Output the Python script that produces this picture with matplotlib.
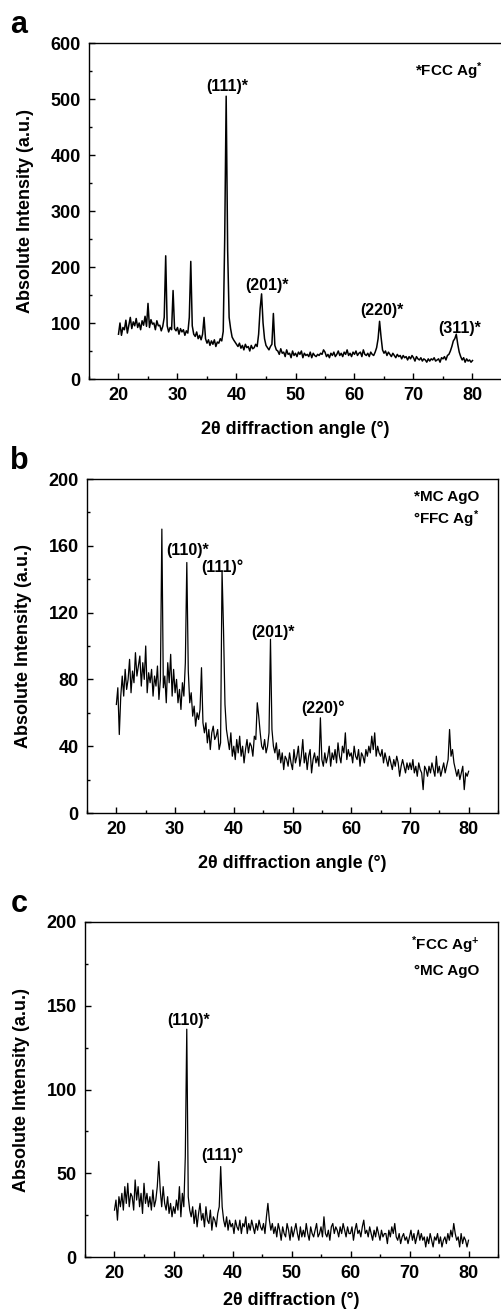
import numpy as np
import matplotlib
matplotlib.use("Agg")
import matplotlib.pyplot as plt
from matplotlib.ticker import MultipleLocator

plt.rcParams['font.family'] = ['Liberation Sans', 'DejaVu Sans']
plt.rcParams['font.weight'] = 'bold'
plt.rcParams['mathtext.fontset'] = 'custom'
plt.rcParams['mathtext.rm'] = 'Liberation Sans:bold'
plt.rcParams['mathtext.default'] = 'rm'

# 2-theta sampling, 20..80 step 0.25
two_theta = np.arange(240 + 1) * 0.25 + 20

counts_a = [
    80, 100, 78, 92, 88, 105, 82, 96, 110, 90, 102, 95, 108, 92, 100, 88,
    104, 96, 112, 94, 135, 92, 106, 98, 100, 88, 104, 95, 96, 86, 94, 110,
    220, 95, 84, 92, 88, 158, 90, 86, 92, 80, 90, 84, 88, 78, 86, 82,
    110, 210, 95, 80, 76, 84, 72, 78, 70, 80, 110, 72, 64, 70, 60, 68,
    62, 70, 58, 66, 64, 72, 68, 85, 250, 505, 230, 110, 90, 75, 70, 66,
    62, 58, 64, 55, 60, 52, 62, 56, 58, 50, 60, 54, 56, 62, 58, 80,
    125, 152, 100, 72, 60, 56, 52, 58, 62, 117, 60, 52, 50, 44, 54, 46,
    48, 40, 52, 44, 46, 38, 50, 42, 46, 40, 48, 44, 50, 38, 46, 42,
    44, 40, 48, 38, 46, 42, 40, 44, 42, 46, 44, 52, 48, 40, 44, 38,
    46, 42, 48, 40, 44, 50, 42, 46, 40, 48, 44, 52, 42, 46, 40, 48,
    44, 50, 42, 46, 48, 40, 52, 44, 42, 46, 40, 48, 44, 42, 48, 56,
    72, 103, 75, 52, 46, 50, 42, 48, 44, 40, 46, 42, 38, 44, 40, 42,
    36, 42, 38, 40, 34, 40, 36, 42, 38, 32, 40, 36, 34, 38, 32, 36,
    34, 30, 36, 32, 36, 34, 38, 32, 34, 36, 30, 38, 36, 40, 34, 42,
    44, 50, 58, 68, 72, 80, 62, 48, 40, 34, 38, 30, 36, 32, 34, 30,
    33,
]

counts_b = [
    65, 75, 47, 70, 82, 70, 86, 74, 80, 92, 72, 85, 78, 96, 82, 88,
    94, 76, 90, 80, 100, 72, 84, 78, 86, 70, 82, 76, 88, 68, 80, 170,
    75, 82, 66, 90, 78, 95, 70, 86, 72, 80, 66, 74, 62, 78, 70, 90,
    150, 85, 66, 72, 58, 64, 52, 60, 56, 62, 87, 54, 48, 54, 42, 50,
    38, 48, 52, 44, 46, 50, 38, 42, 145, 110, 65, 50, 44, 38, 48, 34,
    40, 32, 44, 36, 46, 34, 40, 30, 38, 44, 36, 42, 40, 34, 46, 44,
    66, 58, 48, 40, 38, 44, 36, 40, 48, 104, 50, 40, 36, 42, 32, 38,
    30, 36, 26, 34, 32, 28, 36, 30, 26, 38, 30, 34, 40, 28, 34, 44,
    30, 36, 26, 34, 38, 24, 32, 36, 30, 34, 28, 57, 32, 28, 36, 30,
    34, 40, 28, 36, 32, 38, 30, 42, 34, 30, 40, 36, 48, 32, 38, 34,
    36, 30, 40, 34, 32, 38, 28, 36, 34, 30, 38, 34, 40, 36, 46, 38,
    48, 34, 40, 36, 34, 38, 30, 36, 32, 28, 34, 30, 26, 32, 28, 34,
    30, 22, 28, 32, 28, 24, 30, 26, 30, 26, 32, 24, 28, 22, 30, 26,
    24, 14, 28, 26, 22, 28, 24, 30, 26, 22, 34, 24, 28, 22, 26, 30,
    24, 28, 32, 50, 34, 38, 30, 26, 22, 26, 20, 24, 28, 14, 24, 22,
    25,
]

counts_c = [
    28, 34, 22, 36, 30, 38, 28, 42, 32, 44, 30, 38, 36, 28, 46, 34,
    42, 30, 38, 26, 44, 32, 38, 30, 36, 28, 40, 30, 34, 42, 57, 40,
    30, 42, 32, 28, 36, 26, 32, 24, 30, 26, 34, 28, 42, 24, 38, 30,
    60, 136, 36, 28, 24, 30, 20, 28, 18, 26, 32, 22, 26, 18, 30, 22,
    20, 28, 16, 24, 22, 18, 26, 30, 54, 30, 22, 18, 24, 16, 22, 18,
    20, 14, 22, 18, 16, 22, 14, 20, 18, 24, 14, 20, 16, 22, 18, 14,
    20, 16, 22, 18, 16, 20, 14, 24, 32, 22, 16, 20, 14, 18, 12, 20,
    16, 10, 18, 14, 12, 20, 16, 10, 18, 12, 16, 20, 14, 10, 18, 12,
    16, 12, 20, 14, 10, 18, 14, 12, 16, 20, 12, 14, 18, 12, 24, 14,
    12, 16, 10, 18, 20, 14, 18, 16, 12, 18, 14, 20, 16, 12, 18, 14,
    14, 18, 10, 16, 20, 14, 16, 12, 18, 22, 14, 16, 12, 18, 14, 10,
    16, 12, 18, 14, 10, 16, 12, 14, 14, 8, 16, 12, 18, 14, 20, 12,
    10, 14, 8, 12, 14, 10, 12, 8, 12, 16, 10, 14, 8, 12, 16, 10,
    14, 10, 12, 6, 12, 8, 14, 10, 6, 12, 10, 14, 8, 12, 6, 10,
    12, 8, 14, 10, 16, 12, 20, 14, 10, 12, 6, 14, 8, 12, 10, 6,
    10,
]

# peak labels: (text, x, y)
labels_a = [("(111)*", 38.5, 522), ("(201)*", 45.1, 167),
            ("(220)*", 64.7, 123), ("(311)*", 77.8, 91)]
labels_b = [("(110)*", 32.2, 157), ("(111)°", 38.0, 147),
            ("(201)*", 46.7, 108), ("(220)°", 55.2, 63)]
labels_c = [("(110)*", 32.5, 141), ("(111)°", 38.3, 61)]

legend_a = ["*FCC Ag$^{*}$"]
legend_b = ["*MC AgO", "°FFC Ag$^{*}$"]
legend_c = ["$^{*}$FCC Ag$^{+}$", "°MC AgO"]

fig = plt.figure(figsize=(5.01, 13.11), dpi=100)
H = 1311.0
W = 501.0


def panel(rect, y, ymax, ymaj, labels, legend, leg_y, letter, xlabel, lw,
          xpad=12):
    l, t, r, b = rect
    ax = fig.add_axes([l / W, 1 - b / H, (r - l) / W, (b - t) / H])
    ax.plot(two_theta, y, color='black', lw=lw)
    ax.set_xlim(15, 85)
    ax.set_ylim(0, ymax)
    ax.xaxis.set_major_locator(MultipleLocator(10))
    ax.xaxis.set_minor_locator(MultipleLocator(5))
    ax.yaxis.set_major_locator(MultipleLocator(ymaj))
    ax.yaxis.set_minor_locator(MultipleLocator(ymaj / 2))
    ax.set_xticks([20, 30, 40, 50, 60, 70, 80])
    ax.tick_params(which='both', direction='in', top=False, right=False,
                   labelsize=13, width=1.0)
    ax.tick_params(which='major', length=4, pad=6)
    ax.tick_params(which='minor', length=2.5)
    for s in ax.spines.values():
        s.set_linewidth(1.0)
    for lab in ax.get_xticklabels() + ax.get_yticklabels():
        lab.set_fontweight('bold')
    ax.set_ylabel("Absolute Intensity (a.u.)", fontsize=13,
                  fontweight='bold', labelpad=12)
    ax.set_xlabel(xlabel, fontsize=13, fontweight='bold', labelpad=xpad)
    for txt, x, yy in labels:
        ax.text(x, yy, txt, ha='center', va='center', fontsize=11.5,
                fontweight='bold')
    for i, txt in enumerate(legend):
        ax.text(0.955, leg_y[i], txt, transform=ax.transAxes, ha='right',
                va='center', fontsize=11, fontweight='bold')
    fig.text(19 / W, 1 - t / H + 18 / H, letter, ha='center', va='center',
             fontsize=22, fontweight='bold')
    return ax


panel((89, 43, 502, 379), counts_a, 600, 100, labels_a, legend_a,
      [0.915], "a", "2θ diffraction angle (°)", 1.1)
panel((87, 479, 498, 813), counts_b, 200, 40, labels_b, legend_b,
      [0.945, 0.88], "b", "2θ diffraction angle (°)", 0.9)
panel((85, 922, 498, 1257), counts_c, 200, 50, labels_c, legend_c,
      [0.93, 0.855], "c", "2θ diffraction (°)", 0.9, xpad=7)

fig.savefig("out.png", dpi=100)
